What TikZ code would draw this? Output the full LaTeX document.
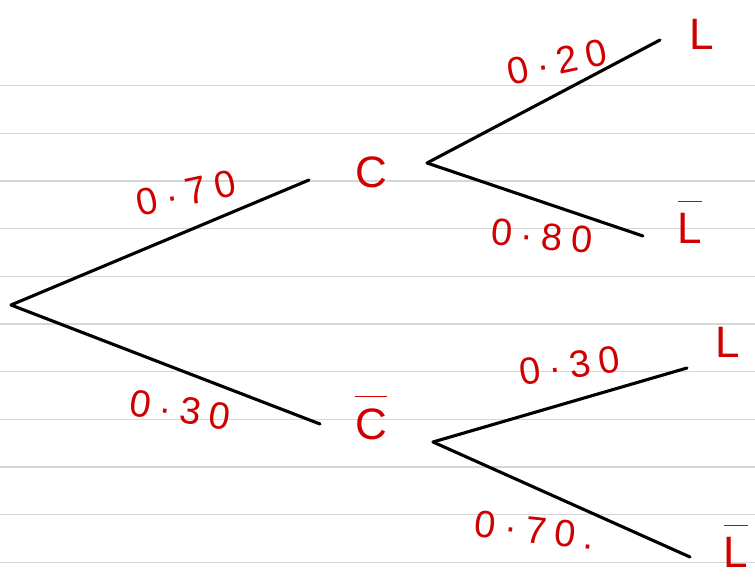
\documentclass[tikz,border=0pt]{standalone}
\usepackage{fontspec}
\setmainfont{Liberation Sans}
\newfontfamily\probfont[LetterSpace=22]{Liberation Sans}
\definecolor{ink}{RGB}{208,0,0}
\definecolor{rule}{RGB}{214,214,214}
\tikzset{
  branch/.style={line width=3.1pt, black, line cap=round},
  ruled/.style={line width=1.4pt, rule},
  prob/.style={text=ink, font=\probfont\fontsize{38}{42}\selectfont, inner sep=0pt},
  event/.style={text=ink, font=\fontsize{44}{48}\selectfont, inner sep=0pt}
}
\newcommand{\evbar}[1]{$\overline{\mbox{\rule{0pt}{0.95em}#1}}$}
\begin{document}
\begin{tikzpicture}[x=1pt,y=-1pt]
\useasboundingbox (0,0) rectangle (755,578);
\fill[white] (0,0) rectangle (755,578);
% ruled paper
\foreach \yy in {85.7,133.3,181,228.7,276.3,324,371.7,419.3,467,514.5,562.2}
  \draw[ruled] (0,\yy) -- (755,\yy);
% branch points
\coordinate (root) at (11,305);
\coordinate (cEnd) at (309,180);
\coordinate (cbEnd) at (320,424);
\coordinate (cRoot) at (427,163);
\coordinate (cbRoot) at (433,442);
\coordinate (lEndA) at (660,40);
\coordinate (lbEndA) at (643,236);
\coordinate (lEndB) at (687,368);
\coordinate (lbEndB) at (690,557);
% branches
\draw[branch] (root) -- (cEnd);
\draw[branch] (root) -- (cbEnd);
\draw[branch] (cRoot) -- (lEndA);
\draw[branch] (cRoot) -- (lbEndA);
\draw[branch] (cbRoot) -- (lEndB);
\draw[branch] (cbRoot) -- (lbEndB);
% events
\node[event] (C) at (371,172) {C};
\node[event] (Cb) at (371,418) {\evbar{C}};
\node[event] (L1) at (702,34) {L};
\node[event] (Lb1) at (690,222) {\evbar{L}};
\node[event] (L2) at (728,342) {L};
\node[event] (Lb2) at (736,546) {\evbar{L}};
% probabilities
\node[prob, rotate=12] (p1) at (186,193) {0·70};
\node[prob, rotate=-8] (p2) at (180,410) {0·30};
\node[prob, rotate=12] (p3) at (557,62) {0·20};
\node[prob, rotate=-5] (p4) at (542,236) {0·80};
\node[prob, rotate=8] (p5) at (570,366) {0·30};
\node[prob, rotate=-6] (p6) at (535,530) {0·70.};
\end{tikzpicture}
\end{document}
